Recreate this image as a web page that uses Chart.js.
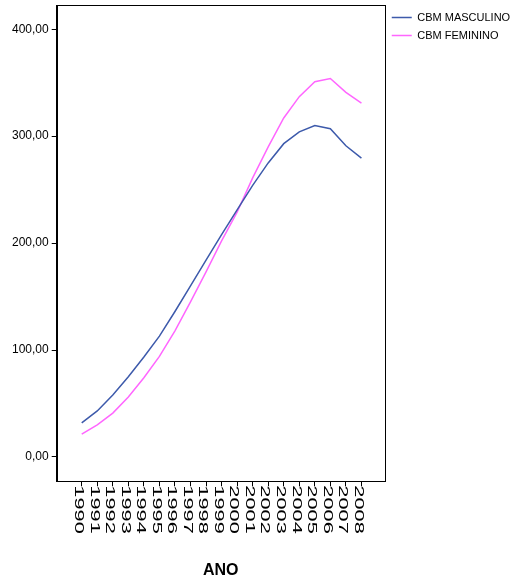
<!DOCTYPE html>
<html>
<head>
<meta charset="utf-8">
<script src="https://cdn.jsdelivr.net/npm/chart.js@4/dist/chart.umd.min.js"></script>
<style>
  html, body { margin: 0; padding: 0; background: #fff; }
  #wrap { width: 513px; height: 580px; position: relative; }
</style>
</head>
<body>
<div id="wrap"><canvas id="c"></canvas></div>
<script>
const years = [1990, 1991, 1992, 1993, 1994, 1995, 1996, 1997, 1998, 1999, 2000, 2001, 2002, 2003, 2004, 2005, 2006, 2007, 2008];
const masculino = [31.8, 43, 58, 75, 93.5, 113, 136, 160, 184, 208, 231, 254, 275, 293, 304, 310, 307, 291, 279.5];
const feminino = [21.3, 30, 41, 56, 74, 94, 118, 145, 173, 202, 229, 261, 290, 317, 337, 351, 354, 341, 331];
const yTicks = [0, 100, 200, 300, 400];
const seriesNames = ['CBM MASCULINO', 'CBM FEMININO'];
const xTitle = 'ANO';

const toPoints = arr => years.map((y, i) => ({ x: y, y: arr[i] }));

const framePlugin = {
  id: 'frame',
  afterDraw(chart) {
    const { ctx, chartArea: a } = chart;
    ctx.save();
    ctx.strokeStyle = '#000';
    ctx.lineWidth = 1;
    ctx.strokeRect(Math.round(a.left) + 0.5, Math.round(a.top) + 0.5,
                   Math.round(a.right - a.left), Math.round(a.bottom - a.top));
    // rotated x tick labels (reading top to bottom)
    const sx = chart.scales.x;
    ctx.fillStyle = '#000';
    ctx.font = '13px "Liberation Sans", Arial, sans-serif';
    ctx.textAlign = 'left';
    ctx.textBaseline = 'middle';
    years.forEach(yr => {
      const px = sx.getPixelForValue(yr);
      ctx.save();
      ctx.translate(px - 3, a.bottom + 4);
      ctx.rotate(Math.PI / 2);
      ctx.scale(1.68, 1.05);
      ctx.fillText(String(yr), 0, 0);
      ctx.restore();
    });
    ctx.restore();
  }
};

new Chart(document.getElementById('c'), {
  type: 'line',
  data: {
    datasets: [
      { label: seriesNames[0], data: toPoints(masculino), borderColor: '#3D5AAB', backgroundColor: '#3D5AAB', borderWidth: 1.5, pointRadius: 0, tension: 0 },
      { label: seriesNames[1], data: toPoints(feminino), borderColor: '#FF66FF', backgroundColor: '#FF66FF', borderWidth: 1.5, pointRadius: 0, tension: 0 }
    ]
  },
  options: {
    responsive: true,
    maintainAspectRatio: false,
    animation: false,
    layout: { padding: { left: 9, top: 5, right: 3, bottom: 0 } },
    plugins: {
      tooltip: { enabled: false },
      legend: {
        position: 'right',
        align: 'start',
        labels: {
          usePointStyle: true,
          pointStyle: 'line',
          pointStyleWidth: 20,
          padding: 7,
          color: '#000',
          font: { family: '"Liberation Sans", Arial, sans-serif', size: 11 }
        }
      }
    },
    scales: {
      x: {
        type: 'linear',
        min: 1988.39,
        max: 2009.5,
        afterBuildTicks: s => { s.ticks = years.map(v => ({ value: v })); },
        afterFit: s => { s.paddingLeft = 0; s.paddingRight = 0; },
        ticks: { display: false },
        grid: { drawOnChartArea: false, drawTicks: true, tickLength: 5, color: '#000' },
        border: { display: true, color: '#000' },
        title: {
          display: true,
          text: xTitle,
          color: '#000',
          font: { family: '"Liberation Sans", Arial, sans-serif', size: 16, weight: 'bold' },
          padding: { top: 74.5, bottom: 0 }
        }
      },
      y: {
        type: 'linear',
        min: -22.8,
        max: 422.7,
        afterBuildTicks: s => { s.ticks = yTicks.map(v => ({ value: v })); },
        afterFit: s => { s.paddingTop = 0; s.paddingBottom = 0; },
        ticks: {
          color: '#000',
          padding: 3,
          font: { family: '"Liberation Sans", Arial, sans-serif', size: 12 },
          callback: v => v.toFixed(2).replace('.', ',')
        },
        grid: { drawOnChartArea: false, drawTicks: true, tickLength: 5, color: '#000' },
        border: { display: true, color: '#000' }
      }
    }
  },
  plugins: [framePlugin]
});
</script>
</body>
</html>
